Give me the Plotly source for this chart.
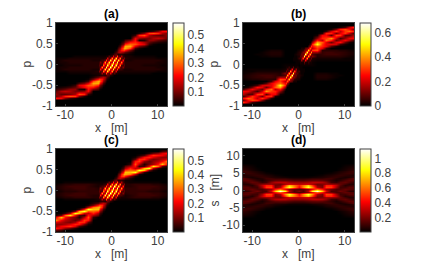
import plotly.graph_objects as go

Z9 = [0] * 9
Z21 = [0] * 21
X = [-12, -11, -10, -9, -8, -7, -6, -5, -4,
     -3, -2.7, -2.4, -2.1, -1.8, -1.5, -1.2, -0.9, -0.6, -0.3, 0, 0.3, 0.6, 0.9, 1.2, 1.5, 1.8, 2.1, 2.4, 2.7, 3,
     4, 5, 6, 7, 8, 9, 10, 11, 12]
P = [1, .95, .9, .85, .8, .75, .7, .65, .6, .55, .5, .45, .4, .35, .3, .25, .2, .15, .1, .05, 0,
     -.05, -.1, -.15, -.2, -.25, -.3, -.35, -.4, -.45, -.5, -.55, -.6, -.65, -.7, -.75, -.8, -.85, -.9, -.95, -1]
XD = list(range(-12, 13))
SD = [12, 11, 10, 9, 8, 7, 6, 5.5, 5, 4.5, 4, 3.5, 3, 2.5, 2, 1.5, 1, .5, 0,
      -.5, -1, -1.5, -2, -2.5, -3, -3.5, -4, -4.5, -5, -5.5, -6, -7, -8, -9, -10, -11, -12]

# values in hundredths, rows from top to bottom: [x<=-4, -3<=x<=3, x>=4]
PANEL_A = [
    [Z9, Z21, Z9], [Z9, Z21, Z9], [Z9, Z21, Z9], [Z9, Z21, Z9],
    [Z9, Z21, [0,0,0,0,2,4,10,20,22]],
    [Z9, Z21, [0,0,3,10,26,28,24,14,10]],
    [Z9, Z21, [0,4,24,28,14,10,8,8,12]],
    [Z9, Z21, [0,20,12,10,10,14,16,14,8]],
    [Z9, [0]*18+[1,3,6], [10,22,2,3,12,12,8,6,4]],
    [Z9, [0]*17+[2,5,8,12], [22,24,20,14,8,5,3,2,1]],
    [Z9, [0]*16+[2,5,10,16,24], [30,28,22,18,4,1,0,0,0]],
    [Z9, [0]*15+[2,6,12,20,30,36], [36,18,10,6,0,0,0,0,0]],
    [Z9, [0]*14+[2,6,12,20,28,35,36], [28,6,2,0,0,0,0,0,0]],
    [Z9, [0]*13+[2,5,10,17,22,25,26,22], [10,1,0,0,0,0,0,0,0]],
    [Z9, [0]*12+[2,5,8,12,15,14,12,10,8], [3,0,0,0,0,0,0,0,0]],
    [Z9, [0]*9+[1,2,3,6,8,5,3,4,4,3,2,2], [1,0,0,0,0,0,0,0,0]],
    [[0,0,0,0,1,1,1,1,1], [1,1,1,1,1,1,2,2,8,4,6,20,8,10,28,8,6,14,4,3,2], [2,1,1,1,1,1,0,0,0]],
    [[1,1,1,2,2,2,2,2,2], [2,2,2,2,2,3,4,18,6,10,35,12,15,45,14,12,32,8,6,10,3], [2,2,2,2,2,2,1,1,1]],
    [[1,2,3,3,3,3,3,3,2], [2,2,3,5,5,8,28,10,14,45,16,18,52,18,16,45,12,8,22,5,2], [2,3,3,3,3,3,3,2,1]],
    [[1,2,2,3,3,3,3,3,3], [3,5,10,5,8,36,12,14,45,16,18,55,18,18,50,14,12,34,8,5,3], [3,3,3,3,3,3,2,2,1]],
    [[1,1,2,2,2,2,3,3,3], [3,7,5,6,32,12,16,48,18,18,55,18,18,48,16,12,32,6,5,7,3], [3,3,3,2,2,2,2,1,1]],
    [[1,2,2,3,3,3,3,3,3], [3,5,8,34,12,14,50,18,18,55,18,16,45,14,12,36,8,5,10,5,3], [3,3,3,3,3,3,2,2,1]],
    [[1,2,3,3,3,3,3,3,2], [2,5,22,8,12,45,16,18,52,18,16,45,14,10,28,8,5,5,3,2,2], [2,3,3,3,3,3,3,2,1]],
    [[1,1,1,2,2,2,2,2,2], [3,10,6,8,32,12,14,45,15,12,35,10,6,18,4,3,2,2,2,2,2], [2,2,2,2,2,2,1,1,1]],
    [[0,0,0,1,1,1,1,1,2], [2,3,4,14,6,8,28,10,8,20,6,4,8,2,2,1,1,1,1,1,1], [1,1,1,1,1,0,0,0,0]],
    [[0]*8+[1], [2,2,3,4,4,3,5,8,6,3,2,1]+[0]*9, Z9],
    [[0]*8+[3], [8,10,12,14,15,12,8,5,2]+[0]*12, Z9],
    [[0]*7+[1,10], [22,26,25,22,17,10,5,2]+[0]*13, Z9],
    [[0]*6+[2,6,28], [36,35,28,20,12,6,2]+[0]*14, Z9],
    [[0,0,0,0,0,6,10,18,36], [36,30,20,12,6,2]+[0]*15, Z9],
    [[0,0,0,1,4,18,22,28,30], [24,16,10,5,2]+[0]*16, Z9],
    [[1,2,3,5,8,14,20,24,22], [12,8,5,2]+[0]*17, Z9],
    [[4,6,8,12,12,3,2,22,10], [6,3,1]+[0]*18, Z9],
    [[8,14,16,14,10,10,12,20,0], Z21, Z9],
    [[12,8,8,10,14,28,24,4,0], Z21, Z9],
    [[10,14,24,28,26,10,3,0,0], Z21, Z9],
    [[22,20,10,4,2,0,0,0,0], Z21, Z9],
    [Z9, Z21, Z9], [Z9, Z21, Z9], [Z9, Z21, Z9], [Z9, Z21, Z9],
]

PANEL_B = [
    [Z9, Z21, Z9], [Z9, Z21, Z9],
    [Z9, Z21, [0,0,0,0,0,2,6,18,30]],
    [Z9, Z21, [0,0,0,2,12,28,32,25,10]],
    [Z9, Z21, [0,0,4,20,30,18,30,35,25]],
    [Z9, Z21, [0,3,28,28,10,22,30,18,6]],
    [Z9, Z21, [2,24,24,8,32,30,8,8,18]],
    [Z9, Z21, [14,28,30,40,20,6,14,22,24]],
    [Z9, [0]*20+[4], [26,18,36,28,10,16,24,16,6]],
    [Z9, [0]*19+[6,14], [42,34,22,10,22,26,10,3,0]],
    [Z9, [0]*18+[6,14,28], [52,30,22,22,20,6,2,0,0]],
    [Z9, [0]*17+[5,14,30,24], [35,28,22,8,2,0,0,0,0]],
    [Z9, [0]*12+[2,2,3,8,12,14,35,22,18], [30,22,6,0,0,0,0,0,0]],
    [[0,0,0,0,0,1,2,2,2], [0]*9+[1,2,3,3,5,10,12,18,48,20,16,30], [32,4,4,4,4,3,3,2,1]],
    [[0,0,0,0,1,2,3,3,3], [0]*8+[1,2,4,4,6,12,12,18,56,20,15,42,15], [15,5,6,6,5,5,4,3,2]],
    [[0,0,0,1,1,2,3,3,3], [0]*7+[1,2,3,4,5,10,10,15,60,18,15,44,12,8], [4,5,6,6,6,5,4,3,2]],
    [[0,0,0,0,1,1,2,2,2], [0]*7+[1,1,2,3,8,8,14,56,15,12,44,10,8,12], [3,4,4,4,4,4,3,2,1]],
    [Z9, [0]*6+[1,1,1,2,6,5,10,32,10,10,42,8,5,10,3], [2,2,2,2,2,2,1,1,1]],
    [Z9, [0]*6+[1,1,1,1,2,3,15,5,6,25,6,4,8,3,2], [1,1,1,1,1,1,1,1,0]],
    [Z9, [0]*8+[1,1,1,3,2,2,10,3,2,5,2,2,1], Z9],
    [Z9, [1,1,1,1,1,1,1,1,1,1,0,1,1,1,1,1,1,1,1,1,1], Z9],
    [Z9, [1,2,2,5,2,3,10,2,2,3,1,1,1]+[0]*8, Z9],
    [[0,1,1,1,1,1,1,1,1], [2,3,8,4,6,25,6,5,15,3,2,1,1,1,1]+[0]*6, Z9],
    [[1,1,1,2,2,2,2,2,2], [3,10,5,8,42,10,10,32,10,5,6,2,1,1,1]+[0]*6, Z9],
    [[1,2,3,4,4,4,4,4,3], [12,8,10,44,12,15,56,14,8,8,3,2,1,1]+[0]*7, [2,2,2,1,1,0,0,0,0]],
    [[2,3,4,5,6,6,6,5,4], [8,12,44,15,18,60,15,10,10,5,4,3,2,1]+[0]*7, [3,3,3,2,1,1,0,0,0]],
    [[2,3,4,5,5,6,6,5,15], [15,42,15,20,56,18,12,12,6,4,4,2,1]+[0]*8, [3,3,3,2,1,0,0,0,0]],
    [[1,2,3,3,4,4,4,4,32], [30,16,20,48,18,12,10,5,3,3,2,1]+[0]*9, [2,2,2,1,0,0,0,0,0]],
    [[0,0,0,0,0,0,6,22,30], [18,22,35,14,12,8,3,2,2]+[0]*12, Z9],
    [[0,0,0,0,2,8,22,28,35], [24,30,14,5]+[0]*17, Z9],
    [[0,0,2,6,20,22,22,30,52], [28,14,6]+[0]*18, Z9],
    [[0,3,10,26,22,10,22,34,42], [14,6]+[0]*19, Z9],
    [[6,16,24,16,10,28,36,18,26], [4]+[0]*20, Z9],
    [[24,22,14,6,20,40,30,28,14], Z21, Z9],
    [[18,8,8,30,32,8,24,24,2], Z21, Z9],
    [[6,18,30,22,10,28,28,3,0], Z21, Z9],
    [[25,35,30,18,30,20,4,0,0], Z21, Z9],
    [[10,25,32,28,12,2,0,0,0], Z21, Z9],
    [[30,18,6,2,0,0,0,0,0], Z21, Z9],
    [Z9, Z21, Z9], [Z9, Z21, Z9],
]

PANEL_C = [
    [Z9, Z21, Z9],
    [Z9, Z21, [0,0,0,0,0,0,0,5,8]],
    [Z9, Z21, [0,0,0,0,3,8,12,18,22]],
    [Z9, Z21, [0,0,2,6,18,25,22,20,14]],
    [Z9, Z21, [0,2,10,22,24,18,14,12,12]],
    [Z9, Z21, [0,8,24,25,14,10,12,15,18]],
    [Z9, Z21, [0,22,26,12,8,12,15,20,32]],
    [Z9, Z21, [4,28,14,3,10,14,22,38,20]],
    [Z9, [0]*18+[2,4,8], [14,22,5,6,20,42,30,8,3]],
    [Z9, [0]*17+[2,5,9,14], [24,16,18,38,45,14,4,1,0]],
    [Z9, [0]*16+[2,6,11,18,26], [30,28,46,38,10,2,0,0,0]],
    [Z9, [0]*15+[2,6,12,20,30,38], [38,45,22,4,0,0,0,0,0]],
    [Z9, [0]*14+[2,7,13,22,30,36,36], [32,15,2,0,0,0,0,0,0]],
    [Z9, [0]*13+[2,5,10,18,24,27,26,22], [10,2,0,0,0,0,0,0,0]],
    [Z9, [0]*12+[2,5,9,13,16,15,12,10,7], [3,0,0,0,0,0,0,0,0]],
    [Z9, [0]*9+[1,2,4,7,9,6,3,4,4,3,2,1], [1,0,0,0,0,0,0,0,0]],
    [[0,0,1,1,1,1,1,1,1], [1,1,1,1,1,1,2,3,9,5,7,22,9,11,30,9,7,15,5,3,2], [1,1,1,1,1,1,1,0,0]],
    [[1,2,3,3,4,4,4,4,3], [2,2,2,2,3,4,5,20,7,11,36,13,16,46,15,13,34,9,7,11,3], [3,4,4,4,4,3,3,2,1]],
    [[2,3,4,5,5,5,5,4,3], [2,3,4,6,6,9,30,11,15,46,17,19,54,19,17,46,13,9,24,6,3], [3,4,5,5,5,5,4,3,2]],
    [[2,3,4,4,5,5,5,4,4], [3,6,11,6,9,38,13,15,46,17,19,56,19,19,52,15,13,36,9,6,4], [4,4,5,5,5,4,4,3,2]],
    [[1,2,3,3,3,4,4,4,4], [4,8,6,7,34,13,17,49,19,19,56,19,19,49,17,13,34,7,6,8,4], [4,4,4,4,3,3,3,2,1]],
    [[2,3,4,4,5,5,5,4,4], [4,6,9,36,13,15,52,19,19,56,19,17,46,15,13,38,9,6,11,6,3], [4,4,5,5,5,4,4,3,2]],
    [[2,3,4,5,5,5,5,4,3], [3,6,24,9,13,46,17,19,54,19,17,46,15,11,30,9,6,6,4,3,2], [3,4,5,5,5,5,4,3,2]],
    [[1,2,3,3,4,4,4,4,3], [3,11,7,9,34,13,15,46,16,13,36,11,7,20,5,4,3,2,2,2,2], [3,4,4,4,4,3,3,2,1]],
    [[0,0,1,1,1,1,1,1,1], [2,3,5,15,7,9,30,11,9,22,7,5,9,3,2,1,1,1,1,1,1], [1,1,1,1,1,1,1,0,0]],
    [[0]*8+[1], [1,2,3,4,4,3,6,9,7,4,2,1]+[0]*9, Z9],
    [[0]*8+[3], [7,10,12,15,16,13,9,5,2]+[0]*12, Z9],
    [[0]*7+[2,10], [22,26,27,24,18,10,5,2]+[0]*13, Z9],
    [[0]*6+[2,15,32], [36,36,30,22,13,7,2]+[0]*14, Z9],
    [[0,0,0,0,0,4,22,45,38], [38,30,20,12,6,2]+[0]*15, Z9],
    [[0,0,0,2,10,38,46,28,30], [26,18,11,6,2]+[0]*16, Z9],
    [[0,1,4,14,45,38,18,16,24], [14,9,5,2]+[0]*17, Z9],
    [[3,8,30,42,20,6,5,22,14], [8,4,2]+[0]*18, Z9],
    [[20,38,22,14,10,3,14,28,4], Z21, Z9],
    [[32,20,15,12,8,12,26,22,0], Z21, Z9],
    [[18,15,12,10,14,25,24,8,0], Z21, Z9],
    [[12,12,14,18,24,22,10,2,0], Z21, Z9],
    [[14,20,22,25,18,6,2,0,0], Z21, Z9],
    [[22,18,12,8,3,0,0,0,0], Z21, Z9],
    [[8,5,0,0,0,0,0,0,0], Z21, Z9],
    [Z9, Z21, Z9],
]

Z25 = [0] * 25
PANEL_D = [
    Z25, Z25, Z25, Z25, Z25,
    [4,3,2]+[0]*19+[2,3,4],
    [8,6,4,2]+[0]*17+[2,4,6,8],
    [10,8,6,4,2]+[0]*15+[2,4,6,8,10],
    [8,9,8,6,4,2,1]+[0]*11+[1,2,4,6,8,9,8],
    [5,6,7,8,7,5,4,2,1]+[0]*7+[1,2,4,5,7,8,7,6,5],
    [8,5,4,6,8,8,6,5,4,3,2,2,2,2,2,3,4,5,6,8,8,6,4,5,8],
    [14,10,6,4,6,10,10,8,8,8,6,5,5,5,6,8,8,8,10,10,6,4,6,10,14],
    [14,15,12,7,4,8,12,15,16,15,14,12,12,12,14,15,16,15,12,8,4,7,12,15,14],
    [8,12,16,14,8,10,22,28,30,30,26,24,24,24,26,30,30,28,22,10,8,14,16,12,8],
    [6,6,10,16,22,25,26,20,18,28,35,32,30,32,35,28,18,20,26,25,22,16,10,6,6],
    [10,8,6,14,30,45,45,18,20,50,75,60,45,60,75,50,20,18,45,45,30,14,6,8,10],
    [14,14,10,10,26,50,52,20,28,65,90,65,40,65,90,65,28,20,52,50,26,10,10,14,14],
    [12,14,16,12,12,18,25,45,60,40,22,15,12,15,22,40,60,45,25,18,12,12,16,14,12],
    [6,8,14,18,12,12,35,75,110,85,30,12,20,12,30,85,110,75,35,12,12,18,14,8,6],
    [12,14,16,12,12,18,25,45,60,40,22,15,12,15,22,40,60,45,25,18,12,12,16,14,12],
    [14,14,10,10,26,50,52,20,28,65,90,65,40,65,90,65,28,20,52,50,26,10,10,14,14],
    [10,8,6,14,30,45,45,18,20,50,75,60,45,60,75,50,20,18,45,45,30,14,6,8,10],
    [6,6,10,16,22,25,26,20,18,28,35,32,30,32,35,28,18,20,26,25,22,16,10,6,6],
    [8,12,16,14,8,10,22,28,30,30,26,24,24,24,26,30,30,28,22,10,8,14,16,12,8],
    [14,15,12,7,4,8,12,15,16,15,14,12,12,12,14,15,16,15,12,8,4,7,12,15,14],
    [14,10,6,4,6,10,10,8,8,8,6,5,5,5,6,8,8,8,10,10,6,4,6,10,14],
    [8,5,4,6,8,8,6,5,4,3,2,2,2,2,2,3,4,5,6,8,8,6,4,5,8],
    [5,6,7,8,7,5,4,2,1]+[0]*7+[1,2,4,5,7,8,7,6,5],
    [8,9,8,6,4,2,1]+[0]*11+[1,2,4,6,8,9,8],
    [10,8,6,4,2]+[0]*15+[2,4,6,8,10],
    [8,6,4,2]+[0]*17+[2,4,6,8],
    [4,3,2]+[0]*19+[2,3,4],
    Z25, Z25, Z25, Z25, Z25,
]

TITLES = ["(a)", "(b)", "(c)", "(d)"]
Y_TITLES = ["p", "p", "p", "s   [m]"]
X_TITLE = "x   [m]"
CB_MAX = [0.58, 0.68, 0.58, 1.13]
CB_TICKS = [[.1, .2, .3, .4, .5], [0, .2, .4, .6], [.1, .2, .3, .4, .5], [.2, .4, .6, .8, 1]]
CB_TEXT = [["0.1", "0.2", "0.3", "0.4", "0.5"], ["0", "0.2", "0.4", "0.6"],
           ["0.1", "0.2", "0.3", "0.4", "0.5"], ["0.2", "0.4", "0.6", "0.8", "1"]]

W, H = 424, 267
HOT = [[0, "#000000"], [0.365, "#ff0000"], [0.746, "#ffff00"], [1, "#ffffff"]]
FONT = "Liberation Sans, Arial, sans-serif"
INK = "#404040"
BOXES = [(56, 167, 23, 106), (243, 354, 23, 106), (56, 167, 149, 232), (243, 354, 149, 232)]
Y_TITLE_X = [26, 213, 26, 214]


def grid(rows):
    out = []
    for r in rows:
        assert len(r) == 3 and len(r[0]) == 9 and len(r[1]) == 21 and len(r[2]) == 9, r
        out.append([v / 100 for v in r[0] + r[1] + r[2]])
    assert len(out) == 41, len(out)
    return out


assert len(PANEL_D) == len(SD) and all(len(r) == 25 for r in PANEL_D)
DATA = [grid(PANEL_A), grid(PANEL_B), grid(PANEL_C), [[v / 100 for v in r] for r in PANEL_D]]

fig = go.Figure()
ann = []
layout = {}
for i, (x0, x1, y0, y1) in enumerate(BOXES):
    n = "" if i == 0 else str(i + 1)
    xs, ys = (XD, SD) if i == 3 else (X, P)
    fig.add_trace(go.Heatmap(
        x=xs, y=ys, z=DATA[i], zmin=0, zmax=CB_MAX[i], colorscale=HOT, zsmooth="best",
        xaxis="x" + n, yaxis="y" + n, hoverinfo="skip",
        colorbar=dict(
            x=(x1 + 6) / W, xanchor="left", xpad=0, ypad=0,
            y=1 - (y0 + y1) / 2 / H, yanchor="middle",
            thicknessmode="pixels", thickness=11, lenmode="pixels", len=y1 - y0,
            outlinecolor=INK, outlinewidth=1, ticks="", tickmode="array",
            tickvals=CB_TICKS[i], ticktext=CB_TEXT[i],
            tickfont=dict(family=FONT, size=12, color=INK),
        ),
    ))
    axis = dict(
        mirror=True, showline=True, linecolor=INK, linewidth=1, ticks="inside", ticklen=2,
        tickcolor=INK, tickwidth=1, showgrid=False, zeroline=False,
        tickfont=dict(family=FONT, size=12, color=INK),
    )
    layout["xaxis" + n] = dict(
        axis, domain=[x0 / W, x1 / W], range=[-12, 12], anchor="y" + n,
        tickmode="array", tickvals=[-10, 0, 10], ticktext=["-10", "0", "10"],
        ticklabelstandoff=-2,
    )
    if i == 3:
        yv, yt, yr = [-10, -5, 0, 5, 10], ["-10", "-5", "0", "5", "10"], [-12, 12]
    else:
        yv, yt, yr = [-1, -.5, 0, .5, 1], ["-1", "-0.5", "0", "0.5", "1"], [-1, 1]
    layout["yaxis" + n] = dict(
        axis, domain=[1 - y1 / H, 1 - y0 / H], range=yr, anchor="x" + n,
        tickmode="array", tickvals=yv, ticktext=yt,
    )
    ann.append(dict(
        text="<b>" + TITLES[i] + "</b>", x=(x0 + x1) / 2 / W, y=1 - (y0 - 9) / H,
        xref="paper", yref="paper", showarrow=False, xanchor="center", yanchor="middle",
        font=dict(family=FONT, size=12, color="#000000"),
    ))
    ann.append(dict(
        text=X_TITLE, x=(x0 + x1) / 2 / W, y=1 - (y1 + 22) / H,
        xref="paper", yref="paper", showarrow=False, xanchor="center", yanchor="middle",
        font=dict(family=FONT, size=12, color=INK),
    ))
    ann.append(dict(
        text=Y_TITLES[i], x=Y_TITLE_X[i] / W, y=1 - (y0 + y1) / 2 / H, textangle=-90,
        xref="paper", yref="paper", showarrow=False, xanchor="center", yanchor="middle",
        font=dict(family=FONT, size=12, color=INK),
    ))

fig.update_layout(
    width=W, height=H, margin=dict(l=0, r=0, t=0, b=0, autoexpand=False), paper_bgcolor="white",
    plot_bgcolor="black", showlegend=False, annotations=ann, **layout,
)
fig.write_html("out.html", config={"displayModeBar": False},
               post_script="document.body.style.margin='0';document.body.style.overflow='hidden';")
